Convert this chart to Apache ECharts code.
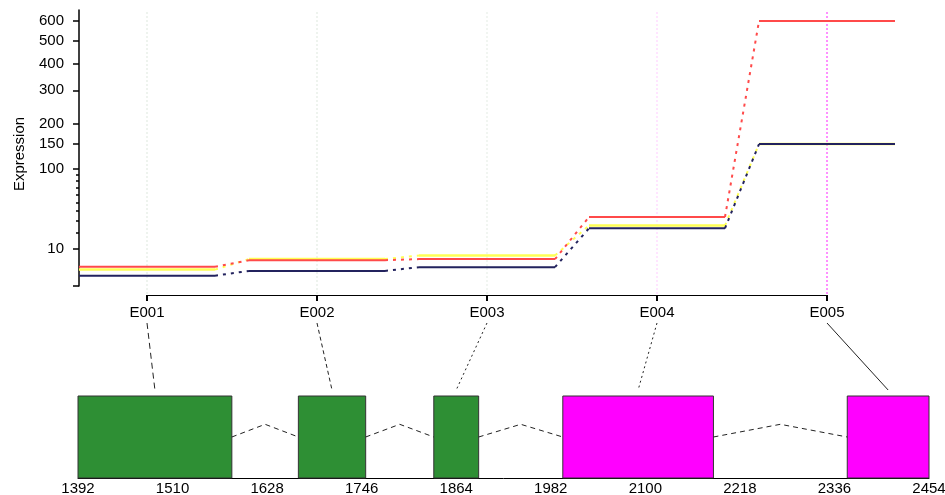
<!DOCTYPE html>
<html>
<head>
<meta charset="utf-8">
<script src="https://cdn.jsdelivr.net/npm/echarts@6/dist/echarts.min.js"></script>
<style>
  html, body { margin: 0; padding: 0; background: #fff; }
  #main { width: 945px; height: 495px; }
</style>
</head>
<body>
<div id="main"></div>
<script>
// exon bins and expression per sample (counts)
var exonIds = ['E001', 'E002', 'E003', 'E004', 'E005'];
var redExpr = [2.6, 4.7, 5.1, 34, 600];
var yellowExpr = [1.9, 5.1, 6.6, 26, 150];
var navyExpr = [0.75, 1.6, 2.5, 23.7, 150];

// genomic coordinates of the exons
var exonStart = [1392, 1667, 1836, 1997, 2352];
var exonEnd = [1584, 1751, 1892, 2185, 2454];

// tick labels
var exprMajorTicks = [0, 10, 100, 150, 200, 300, 400, 500, 600];
var exprLabelTicks = [10, 100, 150, 200, 300, 400, 500, 600];
var exprMinorTicks = [20, 30, 40, 50, 60, 70, 80, 90];
var genomeTicks = [1392, 1510, 1628, 1746, 1864, 1982, 2100, 2218, 2336, 2454];

// variance stabilising scale used on the expression axis
var A = 0.0012;
function tf(v) { return Math.asinh(Math.sqrt(A * v)); }
function itf(t) { var s = Math.sinh(t); return s * s / A; }
var yTop = tf(662);

var FONT = 'Liberation Sans, Arial, sans-serif';
var exonFill = ['#2e8f34', '#2e8f34', '#2e8f34', '#ff00ff', '#ff00ff'];
var guideCols = ['#dde8dd', '#dde8dd', '#e3ebe3', '#ffccff', '#ff22ff'];
var connDash = [[6, 4], [4, 3], [2, 3], [2, 3], null];
var HALF = 0.4;

// gene model drawing units (grid 2 y axis)
var GENE_H = 155, BOX_H = 82, MID = 41, PEAK = 53.7, CONN_Y = 88;

var myChart = echarts.init(document.getElementById('main'));

function segs(vals) {
  var d = [];
  vals.forEach(function (v, i) {
    d.push([i + 1 - HALF, tf(v)], [i + 1 + HALF, tf(v)], '-');
  });
  return d;
}
function joins(vals) {
  var d = [];
  for (var i = 0; i < vals.length - 1; i++) {
    d.push([i + 1 + HALF, tf(vals[i])], [i + 2 - HALF, tf(vals[i + 1])], '-');
  }
  return d;
}
function sampleSeries(vals, color, w) {
  return [{
    type: 'line', xAxisIndex: 0, yAxisIndex: 0, data: segs(vals), z: 3,
    symbol: 'none', lineStyle: { color: color, width: w }, silent: true
  }, {
    type: 'line', xAxisIndex: 0, yAxisIndex: 0, data: joins(vals), z: 3,
    symbol: 'none', lineStyle: { color: color, width: 2, type: [3, 5] }, silent: true
  }];
}

var introns = [];
for (var i = 0; i < exonStart.length - 1; i++) {
  introns.push([exonEnd[i], MID], [(exonEnd[i] + exonStart[i + 1]) / 2, PEAK], [exonStart[i + 1], MID], '-');
}

var option = {
  backgroundColor: '#ffffff',
  animation: false,
  textStyle: { fontFamily: FONT },
  grid: [
    { left: 79, top: 10, width: 816, height: 276, outerBoundsMode: 'none' },
    { left: 147, top: 12, width: 680, height: 283, outerBoundsMode: 'none' },
    { left: 78, top: 323, width: 851, height: 155, outerBoundsMode: 'none' }
  ],
  xAxis: [
    { gridIndex: 0, type: 'value', min: 0.6, max: 5.4, show: false },
    {
      gridIndex: 1, type: 'category', data: exonIds, boundaryGap: false, position: 'bottom',
      axisLine: { lineStyle: { color: '#000', width: 1 } },
      axisTick: { length: 6, lineStyle: { color: '#000', width: 2 } },
      axisLabel: { margin: 10, fontSize: 15, color: '#000', fontFamily: FONT, interval: 0 },
      splitLine: { show: false }
    },
    {
      gridIndex: 2, type: 'value', min: 1392, max: 2454,
      axisLine: { lineStyle: { color: '#000', width: 1 } },
      axisTick: { show: false },
      axisLabel: {
        customValues: genomeTicks, margin: 3, fontSize: 15, color: '#000', fontFamily: FONT,
        formatter: function (v) { return String(v); }
      },
      splitLine: { show: false }
    }
  ],
  yAxis: [
    {
      gridIndex: 0, type: 'value', min: 0, max: yTop, position: 'left',
      name: 'Expression', nameLocation: 'middle', nameGap: 52,
      nameTextStyle: { fontSize: 15, color: '#000', fontFamily: FONT, padding: [0, 12, 0, 0] },
      axisLine: { show: true, lineStyle: { color: '#000', width: 1.5 } },
      axisTick: { show: true, length: 6, customValues: exprMajorTicks.map(tf), lineStyle: { color: '#000', width: 1.5 } },
      axisLabel: {
        customValues: exprLabelTicks.map(tf), margin: 15, fontSize: 15, color: '#000', fontFamily: FONT,
        formatter: function (v) { return String(Math.round(itf(v))); }
      },
      splitLine: { show: false }
    },
    {
      gridIndex: 0, type: 'value', min: 0, max: yTop, position: 'left',
      axisLine: { show: false },
      axisTick: { show: true, length: 3, customValues: exprMinorTicks.map(tf), lineStyle: { color: '#000', width: 1.5 } },
      axisLabel: { show: false },
      splitLine: { show: false }
    },
    { gridIndex: 1, type: 'value', min: 0, max: 1, show: false },
    { gridIndex: 2, type: 'value', min: 0, max: GENE_H, show: false }
  ],
  series: [].concat(
    [{
      // dotted guide line above each exon bin
      type: 'custom', xAxisIndex: 1, yAxisIndex: 2, z: 1,
      data: exonIds.map(function (id, i) { return [i, 0]; }),
      renderItem: function (params, api) {
        var top = api.coord([api.value(0), 1]);
        var bot = api.coord([api.value(0), 0]);
        return {
          type: 'line',
          shape: { x1: top[0], y1: top[1], x2: bot[0], y2: bot[1] },
          style: { stroke: guideCols[params.dataIndex], lineWidth: 1, lineDash: [2, 2] }
        };
      },
      silent: true
    }],
    sampleSeries(yellowExpr, '#ffff55', 2.5),
    sampleSeries(redExpr, '#ff4a4a', 2),
    sampleSeries(navyExpr, '#23235e', 2),
    [{
      type: 'custom', xAxisIndex: 2, yAxisIndex: 3,
      data: exonStart.map(function (s, i) { return [s, exonEnd[i], i]; }),
      renderItem: function (params, api) {
        var p0 = api.coord([api.value(0), BOX_H]);
        var p1 = api.coord([api.value(1), 0]);
        return {
          type: 'rect',
          shape: { x: p0[0], y: p0[1], width: p1[0] - p0[0], height: p1[1] - p0[1] },
          style: { fill: exonFill[api.value(2)], stroke: '#333', lineWidth: 1 }
        };
      },
      silent: true
    }, {
      type: 'line', xAxisIndex: 2, yAxisIndex: 3, data: introns, symbol: 'none',
      lineStyle: { color: '#222', width: 1, type: [5, 4] }, silent: true
    }]
  )
};

// 使用刚指定的配置项和数据显示图表。
myChart.setOption(option);

// lines from each exon label down to its box in the gene model
var conn = [];
exonIds.forEach(function (id, i) {
  var xTop = myChart.convertToPixel({ xAxisIndex: 1 }, i);
  var pTop = myChart.convertToPixel({ gridIndex: 2 }, [exonStart[i], GENE_H]);
  var pBot = myChart.convertToPixel({ gridIndex: 2 }, [(exonStart[i] + exonEnd[i]) / 2, CONN_Y]);
  conn.push({
    type: 'line',
    shape: { x1: xTop, y1: pTop[1], x2: pBot[0], y2: pBot[1] },
    style: { stroke: '#222', lineWidth: 1, lineDash: connDash[i] },
    silent: true
  });
});
myChart.setOption({ graphic: conn });
</script>
</body>
</html>
